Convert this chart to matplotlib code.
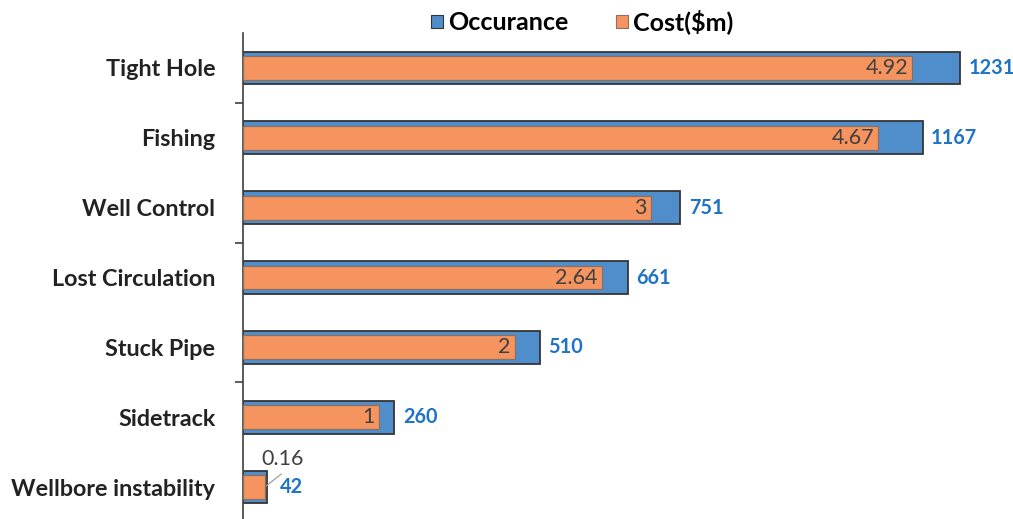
import matplotlib
matplotlib.use("Agg")
import matplotlib.pyplot as plt
from matplotlib.patches import Patch

categories = ["Tight Hole", "Fishing", "Well Control", "Lost Circulation",
              "Stuck Pipe", "Sidetrack", "Wellbore instability"]
occurance = [1231, 1167, 751, 661, 510, 260, 42]
cost = [4.92, 4.67, 3, 2.64, 2, 1, 0.16]
cost_labels = ["4.92", "4.67", "3", "2.64", "2", "1", "0.16"]

BLUE = "#4F8DCB"
ORANGE = "#F5945F"
BLUE_TXT = "#1F73C7"
DARK = "#222222"
FONT = "Lato"

W, H = 1013, 519
fig = plt.figure(figsize=(W / 100, H / 100), dpi=100)
ax = fig.add_axes([243 / W, -3 / H, (W - 243) / W, 489 / H])
ax2 = ax.twiny()

y = list(range(len(categories)))
ax.barh(y, occurance, height=0.47, color=BLUE, edgecolor="#353535", linewidth=1.3, zorder=2)
ax2.barh(y, cost, height=0.34, color=ORANGE, edgecolor="#8a7060", linewidth=0.9, zorder=3)

ax.set_xlim(0, 770 / 0.5825)
ax2.set_xlim(0, 770 / 136.0)
ax.set_ylim(6.5, -0.5)

# occurrence labels
for yi, v in zip(y, occurance):
    off = 9 if v < 100 else 6
    ax.annotate(str(v), xy=(v, yi), xytext=(off, 0), textcoords="offset points",
                ha="left", va="center", color=BLUE_TXT, fontsize=14.3,
                fontweight="bold", family=FONT, zorder=5)

# cost labels
for yi, v, lab in zip(y, cost, cost_labels):
    if v < 0.5:
        ax2.annotate(lab, xy=(v, yi), xytext=(13, 20), textcoords="offset points",
                     ha="center", va="center", color="#404040", fontsize=15.5,
                     family=FONT, zorder=5)
        ax2.annotate("", xy=(v, yi), xytext=(12, 9.5), textcoords="offset points",
                     arrowprops=dict(arrowstyle="-", color="#a0a0a0", lw=0.9,
                                     shrinkA=0, shrinkB=1.5), zorder=5)
    else:
        ax2.annotate(lab, xy=(v, yi), xytext=(-3, 0), textcoords="offset points",
                     ha="right", va="center", color="#404040", fontsize=15.5,
                     family=FONT, zorder=5)

# axes styling
for a in (ax, ax2):
    for s in ("top", "right", "bottom"):
        a.spines[s].set_visible(False)
ax2.spines["left"].set_visible(False)
ax2.set_xticks([])
ax.set_xticks([])
ax.spines["left"].set_color("#404040")
ax.spines["left"].set_linewidth(1.2)

ax.set_yticks(y)
ax.set_yticklabels(categories, fontsize=16.8, fontweight="bold", color=DARK, family=FONT)
ax.tick_params(axis="y", which="major", length=0, pad=20)
ax.set_yticks([0.5, 2.5, 4.5], minor=True)
ax.tick_params(axis="y", which="minor", length=6, width=1.2, color="#404040", direction="out")

handles = [Patch(facecolor=BLUE, edgecolor="#353535", linewidth=0.8, label="Occurance"),
           Patch(facecolor=ORANGE, edgecolor="#8a7060", linewidth=0.8, label="Cost($m)")]
fig.legend(handles=handles, loc="center", bbox_to_anchor=(582 / W, 1 - 22 / H), ncol=2,
           frameon=False, prop={"family": FONT, "weight": "bold", "size": 18},
           handlelength=0.5, handleheight=0.4, handletextpad=0.2, columnspacing=1.9)

fig.savefig("out.png", dpi=100)
